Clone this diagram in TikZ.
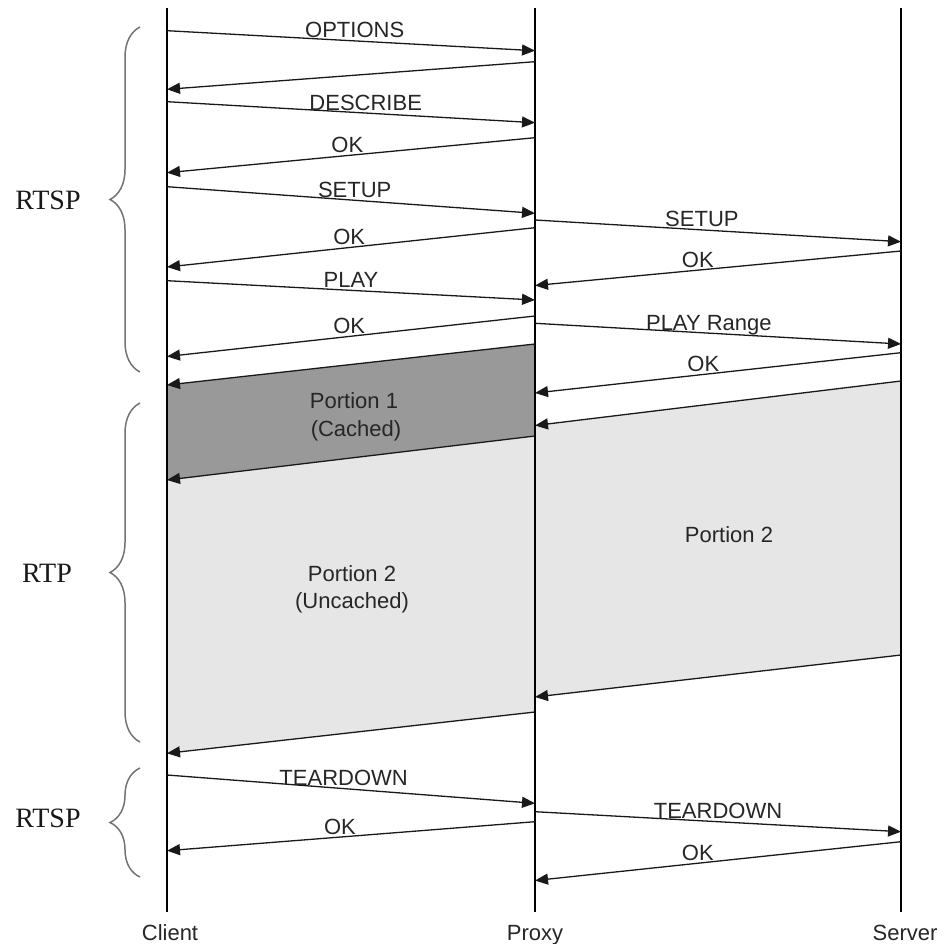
\documentclass[tikz,border=0pt]{standalone}
\usepackage{fontspec}
\setmainfont{Liberation Serif}
\setsansfont{Liberation Sans}
\usetikzlibrary{arrows.meta,decorations.pathreplacing}
\definecolor{darkfill}{HTML}{999999}
\definecolor{lightfill}{HTML}{E6E6E6}
\begin{document}
\begin{tikzpicture}[x=1pt,y=-1pt,
  life/.style={line width=1.8pt, black},
  msg/.style={line width=1.3pt, black!90, -{Triangle[length=13pt,width=11pt]}},
  lbl/.style={font=\sffamily\fontsize{22}{26}\selectfont, anchor=base, inner sep=0pt, yshift=3pt, text=black!85},
  txt/.style={font=\sffamily\fontsize{22}{26}\selectfont, anchor=base, inner sep=0pt, text=black!85},
  grp/.style={font=\rmfamily\fontsize{28}{32}\selectfont, inner sep=0pt, text=black!90},
  bracestyle/.style={decorate, decoration={brace, amplitude=30pt}, line width=1.5pt, draw=black!55}]
\useasboundingbox (0,0) rectangle (943,944);
\def\xc{167}\def\xp{535}\def\xs{901}
% lifeline ends
\coordinate (ct) at (\xc,8); \coordinate (cb) at (\xc,912);
\coordinate (pt) at (\xp,8); \coordinate (pb) at (\xp,912);
\coordinate (st) at (\xs,8); \coordinate (sb) at (\xs,912);
% client-proxy messages
\coordinate (c1) at (\xc,30.7);  \coordinate (p1) at (\xp,50.7);
\coordinate (p2) at (\xp,61.7);  \coordinate (c2) at (\xc,89.3);
\coordinate (c3) at (\xc,101.7); \coordinate (p3) at (\xp,122.7);
\coordinate (p4) at (\xp,137.7); \coordinate (c4) at (\xc,172.7);
\coordinate (c5) at (\xc,186.7); \coordinate (p5) at (\xp,213.3);
\coordinate (p6) at (\xp,227.7); \coordinate (c6) at (\xc,267);
\coordinate (c7) at (\xc,280.7); \coordinate (p7) at (\xp,300);
\coordinate (p8) at (\xp,316);   \coordinate (c8) at (\xc,356.5);
\coordinate (pD1) at (\xp,344);  \coordinate (cD1) at (\xc,385);
\coordinate (pD2) at (\xp,436);  \coordinate (cD2) at (\xc,480);
\coordinate (pL2) at (\xp,712);  \coordinate (cL2) at (\xc,753.3);
\coordinate (c9) at (\xc,775);   \coordinate (p9) at (\xp,803.3);
\coordinate (p10) at (\xp,821.7); \coordinate (c10) at (\xc,850.7);
% proxy-server messages
\coordinate (q1) at (\xp,220);   \coordinate (s1) at (\xs,241.7);
\coordinate (s2) at (\xs,251);   \coordinate (q2) at (\xp,285.5);
\coordinate (q3) at (\xp,323.3); \coordinate (s3) at (\xs,344);
\coordinate (s4) at (\xs,352.7); \coordinate (q4) at (\xp,393);
\coordinate (sR1) at (\xs,381);  \coordinate (pR1) at (\xp,425.5);
\coordinate (sR2) at (\xs,655);  \coordinate (pR2) at (\xp,697);
\coordinate (q5) at (\xp,811.7); \coordinate (s5) at (\xs,831.7);
\coordinate (s6) at (\xs,841.7); \coordinate (q6) at (\xp,880.5);
% fills
\fill[darkfill] (pD1) -- (cD1) -- (cD2) -- (pD2) -- cycle;
\fill[lightfill] (pD2) -- (cD2) -- (cL2) -- (pL2) -- cycle;
\fill[lightfill] (sR1) -- (pR1) -- (pR2) -- (sR2) -- cycle;
% lifelines
\draw[life] (ct) -- (cb);
\draw[life] (pt) -- (pb);
\draw[life] (st) -- (sb);
% client-proxy
\draw[msg] (c1) -- node[lbl, pos=0.51] (lOptions) {OPTIONS} (p1);
\draw[msg] (p2) -- (c2);
\draw[msg] (c3) -- node[lbl, pos=0.54] (lDescribe) {DESCRIBE} (p3);
\draw[msg] (p4) -- node[lbl, pos=0.51] (lOk1) {OK} (c4);
\draw[msg] (c5) -- node[lbl, pos=0.51] (lSetup1) {SETUP} (p5);
\draw[msg] (p6) -- node[lbl, pos=0.505] (lOk2) {OK} (c6);
\draw[msg] (c7) -- node[lbl, pos=0.50] (lPlay) {PLAY} (p7);
\draw[msg] (p8) -- node[lbl, pos=0.505] (lOk3) {OK} (c8);
\draw[msg] (pD1) -- (cD1);
\draw[msg] (pD2) -- (cD2);
\draw[msg] (pL2) -- (cL2);
\draw[msg] (c9) -- node[lbl, pos=0.48] (lTear1) {TEARDOWN} (p9);
\draw[msg] (p10) -- node[lbl, pos=0.53] (lOk4) {OK} (c10);
% proxy-server
\draw[msg] (q1) -- node[lbl, pos=0.456] (lSetup2) {SETUP} (s1);
\draw[msg] (s2) -- node[lbl, pos=0.555] (lOk5) {OK} (q2);
\draw[msg] (q3) -- node[lbl, pos=0.475] (lPlayR) {PLAY Range} (s3);
\draw[msg] (s4) -- node[lbl, pos=0.54] (lOk6) {OK} (q4);
\draw[msg] (sR1) -- (pR1);
\draw[msg] (sR2) -- (pR2);
\draw[msg] (q5) -- node[lbl, pos=0.5] (lTear2) {TEARDOWN} (s5);
\draw[msg] (s6) -- node[lbl, pos=0.555] (lOk7) {OK} (q6);
% portion labels
\node[txt] (por1) at (354,408) {Portion 1};
\node[txt] (cach) at (356,436) {(Cached)};
\node[txt] (por2l) at (352,581) {Portion 2};
\node[txt] (unc) at (352,608) {(Uncached)};
\node[txt] (por2r) at (729,542) {Portion 2};
% lifeline names
\node[txt] (nClient) at (170,940) {Client};
\node[txt] (nProxy) at (535,940) {Proxy};
\node[txt] (nServer) at (905,940) {Server};
% braces
\draw[bracestyle] (140,372) -- (140,27);
\draw[bracestyle] (140,742) -- (140,403);
\draw[bracestyle] (140,877) -- (140,768);
\node[grp] (g1) at (48,200) {RTSP};
\node[grp] (g2) at (47,573) {RTP};
\node[grp] (g3) at (48,818) {RTSP};
\end{tikzpicture}
\end{document}
